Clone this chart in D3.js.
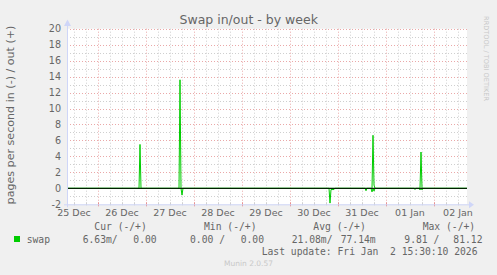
<!DOCTYPE html>
<html><head><meta charset="utf-8">
<script src="https://cdn.jsdelivr.net/npm/d3@7"></script>
<style>
html,body{margin:0;padding:0;background:#f0f0f0;}
svg{display:block;}
text{font-family:"DejaVu Sans",sans-serif;fill:#666;}
.mono{font-family:"DejaVu Sans Mono",monospace;white-space:pre;}
</style></head><body>
<script>
// ---- data ----
const chartTitle = "Swap in/out - by week";
const yAxisTitle = "pages per second in (-) / out (+)";
const timeStart = "2025-12-25T08:30";
const timeEnd = "2026-01-02T16:30";
const yTicks = [-2,0,2,4,6,8,10,12,14,16,18,20];
// out (+)
const swapOut = [
 ["2025-12-25T08:30",0],
 ["2025-12-26T20:30",0],["2025-12-26T21:00",5.5],["2025-12-26T21:30",0],
 ["2025-12-27T16:30",0],["2025-12-27T17:00",13.6],["2025-12-27T17:30",0],
 ["2025-12-31T17:00",0],["2025-12-31T17:30",6.65],["2025-12-31T18:00",0.4],["2025-12-31T18:30",0],
 ["2026-01-01T17:00",0],["2026-01-01T17:30",4.55],["2026-01-01T18:00",0],
 ["2026-01-02T16:30",0]
];
// in (-), drawn negated
const swapIn = [
 ["2025-12-25T08:30",0],
 ["2025-12-27T17:30",0],["2025-12-27T18:00",0.85],["2025-12-27T18:30",0],
 ["2025-12-30T19:30",0],["2025-12-30T20:00",1.85],["2025-12-30T20:30",0.15],["2025-12-30T21:00",0.15],["2025-12-30T22:00",0.15],["2025-12-30T22:30",0],
 ["2025-12-31T13:30",0],["2025-12-31T14:00",0.3],["2025-12-31T14:30",0],
 ["2025-12-31T16:30",0],["2025-12-31T17:00",0.45],["2025-12-31T17:30",0],["2025-12-31T18:00",0.35],["2025-12-31T18:30",0],
 ["2026-01-01T14:00",0],["2026-01-01T14:30",0.15],["2026-01-01T15:00",0],
 ["2026-01-01T16:30",0],["2026-01-01T17:00",0.2],["2026-01-01T17:30",0],["2026-01-01T18:00",0.2],["2026-01-01T18:30",0],
 ["2026-01-02T16:30",0]
];
const legendHeaders = ["Cur (-/+)","Min (-/+)","Avg (-/+)","Max (-/+)"];
const legendSeries = "swap";
const legendIn  = ["6.63m/","0.00 /","21.08m/","9.81 /"];
const legendOut = ["0.00","0.00","77.14m","81.12"];
const lastUpdate = "Last update: Fri Jan  2 15:30:10 2026";
const footer = "Munin 2.0.57";
const watermark = "RRDTOOL / TOBI OETIKER";

// ---- drawing ----
const W=497,H=275;
const L=67,R=467,T=28.7,B=204.3;
const parse = s => new Date(s+":00Z");
const svg = d3.select("body").append("svg").attr("width",W).attr("height",H);
svg.append("rect").attr("width",W).attr("height",H).attr("fill","#f0f0f0");
svg.append("rect").attr("x",L).attr("y",T).attr("width",R-L).attr("height",B-T).attr("fill","#fff");

const x = d3.scaleUtc().domain([parse(timeStart),parse(timeEnd)]).range([L,R]);
const y = d3.scaleLinear().domain([-2,20]).range([B,T]);

const g = svg.append("g");
// minor vertical grid (6h)
const minorX = d3.utcHour.every(6).range(x.domain()[0], x.domain()[1]).filter(d=>d.getUTCHours()!==0);
const majorX = d3.utcDay.range(x.domain()[0], x.domain()[1]);
const minorY = d3.range(-1,20,2);
g.selectAll(".vmin").data(minorX).join("line")
 .attr("x1",d=>Math.round(x(d))+0.5).attr("x2",d=>Math.round(x(d))+0.5).attr("y1",T).attr("y2",B)
 .attr("stroke","#cfcfcf").attr("stroke-dasharray","1,2");
g.selectAll(".hmin").data(minorY).join("line")
 .attr("x1",L).attr("x2",R).attr("y1",d=>Math.round(y(d))+0.5).attr("y2",d=>Math.round(y(d))+0.5)
 .attr("stroke","#cfcfcf").attr("stroke-dasharray","1,2");
g.selectAll(".vmaj").data(majorX).join("line")
 .attr("x1",d=>Math.round(x(d))+0.5).attr("x2",d=>Math.round(x(d))+0.5).attr("y1",T).attr("y2",B)
 .attr("stroke","#eaa8a8").attr("stroke-dasharray","1,2");
g.selectAll(".hmaj").data(yTicks.filter(v=>v>-2)).join("line")
 .attr("x1",L).attr("x2",R).attr("y1",d=>Math.round(y(d))+0.5).attr("y2",d=>Math.round(y(d))+0.5)
 .attr("stroke","#eaa8a8").attr("stroke-dasharray","1,2");

// axis ticks along bottom
g.selectAll(".tmin").data(minorX).join("line")
 .attr("x1",d=>Math.round(x(d))+0.5).attr("x2",d=>Math.round(x(d))+0.5).attr("y1",B-2).attr("y2",B+1)
 .attr("stroke","#cfcfcf");
g.selectAll(".tmaj").data(majorX).join("line")
 .attr("x1",d=>Math.round(x(d))+0.5).attr("x2",d=>Math.round(x(d))+0.5).attr("y1",B-2).attr("y2",B+2)
 .attr("stroke","#e89090");

// data lines
const line = d3.line().x(d=>x(parse(d[0]))).y(d=>y(d[1]));
g.append("path").datum(swapIn.map(d=>[d[0],-d[1]])).attr("d",line)
 .attr("fill","none").attr("stroke","#00cc00").attr("stroke-width",1);
g.append("path").datum(swapOut).attr("d",line)
 .attr("fill","none").attr("stroke","#00cc00").attr("stroke-width",1);
// zero rule
g.append("line").attr("x1",L).attr("x2",R).attr("y1",y(0)).attr("y2",y(0))
 .attr("stroke","#000").attr("stroke-width",1);

// axes lines + arrows
const axc="#cfd6f8";
svg.append("line").attr("x1",L+0.5).attr("x2",L+0.5).attr("y1",B+3).attr("y2",23).attr("stroke",axc);
svg.append("line").attr("x1",L-3).attr("x2",470).attr("y1",B+0.5).attr("y2",B+0.5).attr("stroke",axc);
svg.append("path").attr("d",`M${L-3},26 L${L+0.5},19.5 L${L+4},26 Z`).attr("fill",axc);
svg.append("path").attr("d",`M469,${B-3} L474,${B+0.5} L469,${B+4} Z`).attr("fill",axc);

// y labels
svg.selectAll(".yl").data(yTicks).join("text")
 .attr("x",61).attr("y",d=>y(d)+3.5).attr("text-anchor","end")
 .style("font-size","9.6px").text(d=>d);
// x labels at noon
const noon = majorX.map(d=>d3.utcHour.offset(d,-12)).concat([d3.utcHour.offset(majorX[majorX.length-1],12)]);
svg.selectAll(".xl").data(noon.filter(d=>x(d)>=L-20)).join("text")
 .attr("x",d=>x(d)).attr("y",216).attr("text-anchor","middle")
 .style("font-size","9.5px").text(d=>d3.utcFormat("%d %b")(d));

// titles
svg.append("text").attr("x",248.7).attr("y",24).attr("text-anchor","middle")
 .style("font-size","12.5px").text(chartTitle);
svg.append("text").attr("transform",`translate(14,115) rotate(-90)`).attr("text-anchor","middle")
 .style("font-size","11.1px").text(yAxisTitle);
svg.append("text").attr("transform",`translate(484.3,58.5) rotate(90)`).attr("text-anchor","middle")
 .style("font-size","6.6px").style("fill","#c8c8c8").text(watermark);

// legend
const hx=[94.3,204,313.3,422.7];
svg.selectAll(".lh").data(legendHeaders).join("text").attr("class","mono")
 .attr("x",(d,i)=>hx[i]).attr("y",230).style("font-size","9.7px").text(d=>d);
svg.append("rect").attr("x",14).attr("y",236).attr("width",6).attr("height",6).attr("fill","#00cc00");
svg.append("text").attr("class","mono").attr("x",26.7).attr("y",242.7).style("font-size","9.7px").text(legendSeries);
const ix=[82.7,190,291.7,404.3], ox=[133.3,240.7,340.7,453.3];
svg.selectAll(".li").data(legendIn).join("text").attr("class","mono")
 .attr("x",(d,i)=>ix[i]).attr("y",242.7).style("font-size","9.7px").text(d=>d);
svg.selectAll(".lo").data(legendOut).join("text").attr("class","mono")
 .attr("x",(d,i)=>ox[i]).attr("y",242.7).style("font-size","9.7px").text(d=>d);
svg.append("text").attr("class","mono").attr("x",261.7).attr("y",254.5).style("font-size","9.7px").text(lastUpdate);
svg.append("text").attr("x",248.5).attr("y",266).attr("text-anchor","middle")
 .style("font-size","7.5px").style("fill","#c8c8c8").text(footer);
</script>
</body></html>
